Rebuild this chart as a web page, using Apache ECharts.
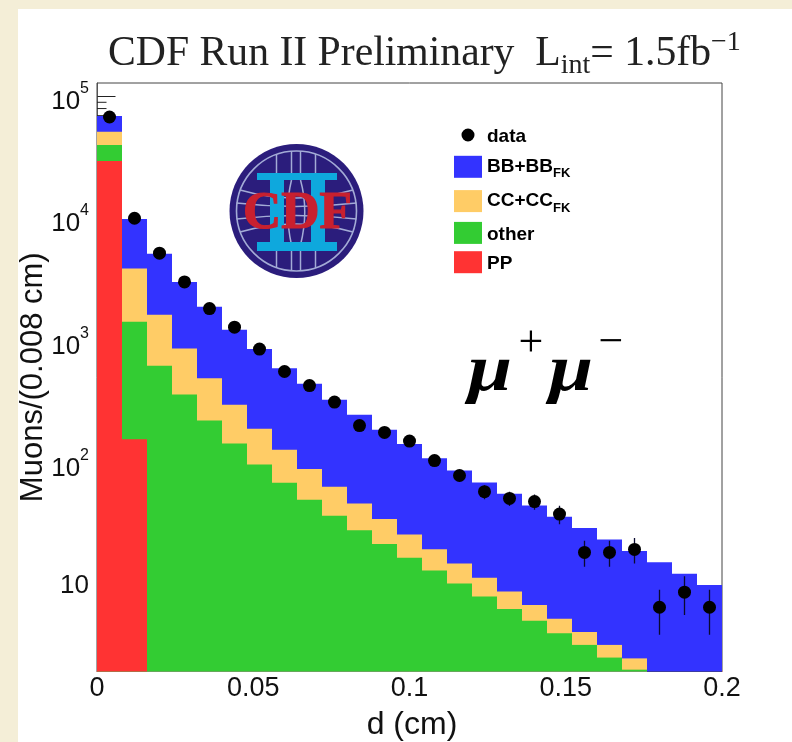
<!DOCTYPE html>
<html><head><meta charset="utf-8">
<style>html,body{margin:0;padding:0;background:#f4eed7}#c{width:792px;height:742px}</style>
<script src="https://cdn.jsdelivr.net/npm/echarts@6/dist/echarts.min.js"></script>
</head><body><div id="c"></div>
<script>
// Bin centres of the 0.008 cm histogram bins (cm)
const binCenters = [0.004,0.012,0.02,0.028,0.036,0.044,0.052,0.06,0.068,0.076,0.084,0.092,0.1,0.108,0.116,0.124,0.132,0.14,0.148,0.156,0.164,0.172,0.18,0.188,0.196];
// Cumulative histogram tops
const bbTotal = [69500,10000,5190,3060,1914,1242,864,604,450,333,251,189,145,111,88,70,56.8,45.5,36.8,29.8,24,19.3,15.6,12.6,10.2];
const ccTotal = [51800,3935,1646,873,500,303,193,130,90.4,64.7,47.3,35.3,26.4,20,15.3,11.7,9,7,5.4,4.2,3.3,2.56,null,null,null];
const otherTotal = [40300,1443,631,367,225,146,98.5,69.8,50.7,37.5,28.5,22,17,13.4,10.5,8.2,6.5,5.2,4.1,3.3,2.6,2.07,null,null,null];
const ppTotal = [29800,158,null,null,null,null,null,null,null,null,null,null,null,null,null,null,null,null,null,null,null,null,null,null,null];
const dataValues = [68200,10150,5260,3060,1854,1306,864,567,435,319,205,180,153,106,80,59,52,49,38.7,18.8,18.8,19.9,6.7,8.9,6.7];
const dataHigh = [68500,10250,5330,3115,1897,1342,893,591,456,337,219,193,165,116,89,66.7,59,56,45.3,23.4,23.4,24.7,9.3,12,9.3];
const dataLow = [67900,10050,5190,3005,1811,1270,835,543,414,301,191,167,141,96,71,51.3,45,42,31.9,14.4,14.4,15.3,4,5.8,4];
const yTickValues = [10,100,1000,10000,100000];
const yMinorTicks = [90000,80000,70000];
const xTickFormat = {0:'0',0.05:'0.05',0.1:'0.1',0.15:'0.15',0.2:'0.2'};

const SANS = '"Liberation Sans", Arial, sans-serif';
const SERIF = '"Liberation Serif", "Times New Roman", serif';
const chart = echarts.init(document.getElementById('c'), null, {renderer:'canvas'});

function barSeries(name, values, color){
  return {name, type:'bar', barWidth:'100%', barGap:'-100%', itemStyle:{color,opacity:1},
    data: binCenters.map((x,i)=>[x, values[i]]), animation:false, z:3, clip:true};
}

// CDF logo
const LC = '#a3abd6';
const lineStyle = {fill:'none',stroke:LC,lineWidth:1.5};
const seg = (x1,y1,x2,y2)=>({type:'line',shape:{x1,y1,x2,y2},style:lineStyle,z:5});
const curve = (x1,y1,cpx1,cpy1,x2,y2)=>({type:'bezierCurve',shape:{x1,y1,cpx1,cpy1,x2,y2},style:lineStyle,z:5});
const logo = [
 {type:'circle', shape:{cx:296.5,cy:211,r:67}, style:{fill:'#2b1d7c'}, z:5},
 {type:'circle', shape:{cx:296.5,cy:211,r:60}, style:{fill:'none',stroke:LC,lineWidth:1.6}, z:5},
 seg(276.5,154,276.5,268), seg(315.5,154,315.5,268),
 seg(291.5,151,291.5,180), seg(291.5,245,291.5,271), seg(300.5,151,300.5,180), seg(300.5,245,300.5,271),
 curve(291.5,180,284,211,291.5,245), curve(300.5,180,309,211,300.5,245),
 curve(240,190,296,206,353,190), curve(236.5,203,296,210,356.5,203),
 curve(236.5,219,296,212,356.5,219), curve(240,232,296,216,353,232),
 {type:'rect', shape:{x:257,y:173,width:80,height:7}, style:{fill:'#0ea8dd'}, z:5},
 {type:'rect', shape:{x:257,y:242,width:80,height:9}, style:{fill:'#0ea8dd'}, z:5},
 {type:'rect', shape:{x:270,y:173,width:14,height:78}, style:{fill:'#0ea8dd'}, z:5},
 {type:'rect', shape:{x:311,y:173,width:14,height:78}, style:{fill:'#0ea8dd'}, z:5},
 {type:'text', x:297.5, y:214, style:{text:'CDF', fill:'#c8202f', stroke:'#c8202f', lineWidth:1.2, font:'bold 53px '+SERIF, align:'center', verticalAlign:'middle'}, z:6}
];

chart.setOption({
  animation:false,
  backgroundColor:'#f4eed7',
  title:{
    left:108, top:32, padding:0,
    text:'{b|CDF Run II Preliminary  L}{s|int}{b|= 1.5fb}{u|−1}',
    textStyle:{fontWeight:'normal',rich:{
      b:{fontFamily:SERIF,fontWeight:'normal',fontSize:41.7,color:'#222',lineHeight:44},
      s:{fontFamily:SERIF,fontWeight:'normal',fontSize:28,color:'#222',lineHeight:30,padding:[24,0,0,0]},
      u:{fontFamily:SERIF,fontWeight:'normal',fontSize:28,color:'#222',lineHeight:30,padding:[0,0,22,0]}
    }}
  },
  grid:{left:97,top:83,width:625,height:588.5,show:true,borderColor:'#444',borderWidth:1,backgroundColor:'transparent',z:1,outerBoundsMode:'none',containLabel:false},
  legend:{
    left:454, top:124, padding:0, orient:'vertical', itemWidth:28, itemHeight:22, itemGap:7.3, selectedMode:false,
    data:[
      {name:'data', icon:'path://M0 0L0 0ZM28 22L28 22ZM7.5 11A6.5 6.5 0 1 1 20.5 11A6.5 6.5 0 1 1 7.5 11Z',itemStyle:{opacity:1}},
      {name:'BB+BBFK',icon:'rect'},{name:'CC+CCFK',icon:'rect'},{name:'other',icon:'rect'},{name:'PP',icon:'rect'}
    ],
    formatter:n=>({ 'BB+BBFK':'{b|BB+BB}{s|FK}', 'CC+CCFK':'{b|CC+CC}{s|FK}' }[n] || '{l|'+n+'}'),
    textStyle:{rich:{
      b:{fontFamily:SANS,fontWeight:'bold',fontSize:19,color:'#000',lineHeight:18},
      l:{fontFamily:SANS,fontWeight:'bold',fontSize:19,color:'#000',lineHeight:18,padding:[3,0,0,0]},
      s:{fontFamily:SANS,fontWeight:'bold',fontSize:13,color:'#000',lineHeight:8,padding:[14,0,0,0]}
    }}
  },
  xAxis:{
    type:'value', min:0, max:0.2, interval:0.05, name:'d (cm)', nameLocation:'middle', nameGap:38,
    nameTextStyle:{fontFamily:SANS,fontSize:32,color:'#111',padding:[0,0,0,5]},
    axisLine:{show:true,onZero:false,lineStyle:{color:'#f33',width:1}},
    axisTick:{show:false}, splitLine:{show:false},
    axisLabel:{fontFamily:SANS,fontSize:27,color:'#111',margin:4,formatter:v=>xTickFormat[v]!==undefined?xTickFormat[v]:String(v),showMinLabel:true,showMaxLabel:true}
  },
  yAxis:{
    type:'log', logBase:10, min:2, max:129400, name:'Muons/(0.008 cm)', nameLocation:'middle', nameGap:48, nameMoveOverlap:false,
    nameTextStyle:{fontFamily:SANS,fontSize:31,color:'#111'},
    axisLine:{show:true,lineStyle:{color:'#666',width:1}},
    axisTick:{show:true,inside:true,length:18.5,customValues:yTickValues,lineStyle:{color:'#222',width:1}},
    minorTick:{show:false}, splitLine:{show:false},
    axisLabel:{
      margin:8, customValues:yTickValues,
      formatter:v=>{const e=Math.round(Math.log10(v)); return e===1?'{b|10}':'{c|10}{u|'+e+'}';},
      rich:{
        b:{fontFamily:SANS,fontSize:26,color:'#111',lineHeight:30},
        c:{fontFamily:SANS,fontSize:26,color:'#111',lineHeight:30,padding:[10,0,0,0]},
        u:{fontFamily:SANS,fontSize:16,color:'#111',lineHeight:18,padding:[0,0,16,0]}
      }
    }
  },
  series:[
    {name:'minorTicks', type:'custom', z:1, silent:true, clip:true,
     data:yMinorTicks.map(v=>[0,v]),
     renderItem:(p,api)=>{const c=api.coord([api.value(0),api.value(1)]);
       return {type:'line',shape:{x1:c[0],y1:c[1],x2:c[0]+9.5,y2:c[1]},style:{stroke:'#222',lineWidth:1}};},
     encode:{x:0,y:1}},
    barSeries('BB+BBFK',bbTotal,'#3333ff'),
    barSeries('CC+CCFK',ccTotal,'#ffcc66'),
    barSeries('other',otherTotal,'#33cc33'),
    barSeries('PP',ppTotal,'#ff3333'),
    {name:'errors', type:'custom', z:9, silent:true, clip:true,
     data:binCenters.map((x,i)=>[x,dataLow[i],dataHigh[i]]),
     renderItem:(p,api)=>{const a=api.coord([api.value(0),api.value(1)]),b=api.coord([api.value(0),api.value(2)]);
       return {type:'line',shape:{x1:a[0],y1:a[1],x2:b[0],y2:b[1]},style:{stroke:'#0a0a30',lineWidth:1.3}};},
     encode:{x:0,y:[1,2]}},
    {name:'data', type:'scatter', symbol:'circle', symbolSize:13, z:10, itemStyle:{color:'#000',opacity:1},
     data:binCenters.map((x,i)=>[x,dataValues[i]])}
  ],
  graphic:[
    {type:'rect', silent:true, z:-100, shape:{x:18,y:9,width:774,height:733}, style:{fill:'#ffffff'}},
    ...logo,
    {type:'text', x:468, y:340, scaleX:1.2, z:6, style:{text:'μ', fill:'#000', font:'italic bold 66px '+SERIF, verticalAlign:'top'}},
    {type:'text', x:549, y:340, scaleX:1.2, z:6, style:{text:'μ', fill:'#000', font:'italic bold 66px '+SERIF, verticalAlign:'top'}},
    {type:'text', x:531, y:344, z:6, style:{text:'+', fill:'#000', font:'44px '+SERIF, align:'center', verticalAlign:'middle'}},
    {type:'text', x:611, y:343, z:6, style:{text:'−', fill:'#000', font:'44px '+SERIF, align:'center', verticalAlign:'middle'}}
  ]
});
</script></body></html>
